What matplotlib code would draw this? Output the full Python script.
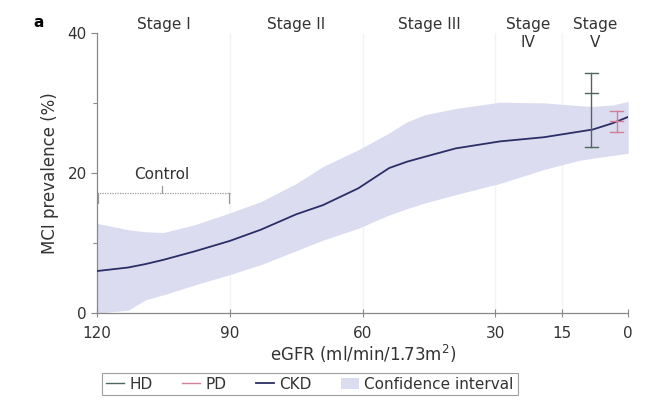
import matplotlib.pyplot as plt
import numpy as np
from matplotlib.lines import Line2D
from matplotlib.patches import Patch

# eGFR grid and curves
egfr = [120, 113, 109, 105, 98, 90, 83, 75, 69, 61, 54, 50, 46, 39, 29, 19, 11, 8, 3.5, 0]
ckd = [6.0, 6.5, 7.0, 7.6, 8.8, 10.3, 11.9, 14.1, 15.4, 17.8, 20.7, 21.6, 22.3, 23.5,
       24.5, 25.1, 25.9, 26.2, 27.1, 28.0]
ci_upper = [12.8, 11.9, 11.6, 11.5, 12.6, 14.3, 15.9, 18.5, 20.9, 23.3, 25.7, 27.3, 28.3,
            29.2, 30.1, 30.0, 29.6, 29.5, 29.7, 30.2]
ci_lower = [0.0, 0.4, 1.9, 2.6, 4.0, 5.5, 6.9, 8.9, 10.4, 12.1, 14.0, 14.9, 15.7, 16.9,
            18.5, 20.5, 21.8, 22.1, 22.5, 22.8]

# dialysis groups: x, mean, low, high
hd = (8.3, 31.4, 23.7, 34.3)
pd_ = (2.6, 27.4, 25.8, 28.8)

stages = ["Stage I", "Stage II", "Stage III", "Stage\nIV", "Stage\nV"]
stage_x = [105, 75, 45, 22.7, 7.4]
xticks = [120, 90, 60, 30, 15, 0]
yticks = [0, 20, 40]

col_ckd = "#2b2e66"
col_band = "#dcdcf0"
col_hd = "#4f6660"
col_pd = "#d27f97"
col_txt = "#333333"

plt.rcParams["font.family"] = ["DejaVu Sans"]

fig = plt.figure(figsize=(6.47, 4.05), dpi=100)
ax = fig.add_axes([0.150, 0.227, 0.821, 0.692])

for g in [90, 60, 30, 15]:
    ax.axvline(g, color="#f3f3f3", lw=1, zorder=0)

x = np.array(egfr, dtype=float)
ax.fill_between(x, ci_lower, ci_upper, color=col_band, lw=0, zorder=1)
ax.plot(x, ckd, color=col_ckd, lw=1.3, zorder=3)

for (xx, m, lo, hi), c in [(hd, col_hd), (pd_, col_pd)]:
    ax.plot([xx, xx], [lo, hi], color=c, lw=1, zorder=4)
    for yy in (lo, m, hi):
        ax.plot([xx - 1.5, xx + 1.5], [yy, yy], color=c, lw=1, zorder=4)

# control bracket
ax.plot([120, 90], [17.1, 17.1], color="#999999", lw=0.9, ls=(0, (1, 1)), zorder=2)
ax.plot([119.7, 119.7], [17.1, 15.7], color="#999999", lw=0.9)
ax.plot([90.3, 90.3], [17.1, 15.7], color="#999999", lw=0.9)
ax.plot([105.3, 105.3], [17.1, 18.1], color="#999999", lw=0.9)
ax.text(105.3, 18.7, "Control", ha="center", va="bottom", fontsize=11, color=col_txt)

for s, sx in zip(stages, stage_x):
    ax.text(sx, 42.3, s, ha="center", va="top", fontsize=11, color=col_txt,
            linespacing=1.3, clip_on=False)

ax.set_xlim(120, 0)
ax.set_ylim(0, 40)
ax.set_xticks(xticks)
ax.set_yticks(yticks)
ax.set_yticks([10, 30], minor=True)
ax.tick_params(axis="both", colors="#888888", labelcolor=col_txt, labelsize=11,
               length=4, width=0.8)
ax.tick_params(axis="x", direction="inout", length=6, pad=6)
ax.tick_params(axis="y", which="minor", length=3, width=0.8, colors="#888888")
for side in ["top", "right"]:
    ax.spines[side].set_visible(False)
for side in ["left", "bottom"]:
    ax.spines[side].set_color("#888888")
    ax.spines[side].set_linewidth(0.9)

ax.set_xlabel("eGFR (ml/min/1.73m$^2$)", fontsize=12, color=col_txt, labelpad=2)
ax.set_ylabel("MCI prevalence (%)", fontsize=12, color=col_txt, labelpad=6)

fig.text(0.052, 0.962, "a", fontsize=11, fontweight="bold", ha="left", va="top")

handles = [
    Line2D([], [], color=col_hd, lw=1),
    Line2D([], [], color=col_pd, lw=1),
    Line2D([], [], color=col_ckd, lw=1.3),
    Patch(facecolor=col_band, edgecolor="none"),
]
labels = ["HD", "PD", "CKD", "Confidence interval"]
leg = fig.legend(handles, labels, loc="lower left", bbox_to_anchor=(0.146, 0.005),
                 ncol=4, fontsize=11, frameon=True, fancybox=False,
                 handlelength=1.2, handletextpad=0.35, columnspacing=1.9,
                 borderpad=0.25, labelcolor=col_txt)
leg.get_frame().set_edgecolor("#888888")
leg.get_frame().set_linewidth(0.8)

fig.savefig("out.png", dpi=100)
